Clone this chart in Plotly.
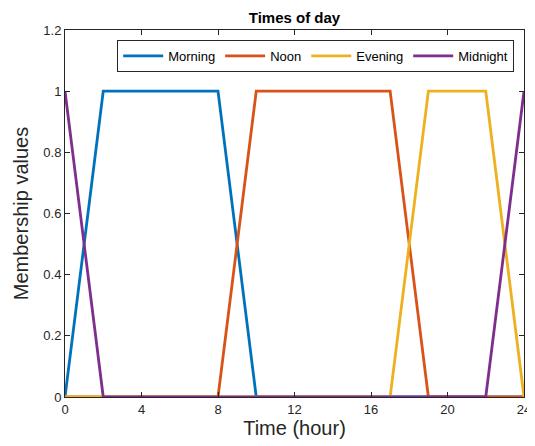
import plotly.graph_objects as go

hours_morning = [0, 2, 8, 10, 24]
vals_morning = [0, 1, 1, 0, 0]
hours_noon = [0, 8, 10, 17, 19, 24]
vals_noon = [0, 0, 1, 1, 0, 0]
hours_evening = [0, 17, 19, 22, 24]
vals_evening = [0, 0, 1, 1, 0]
hours_midnight = [0, 2, 22, 24]
vals_midnight = [1, 0, 0, 1]

x_ticks = [0, 4, 8, 12, 16, 20, 24]
y_ticks = [0, 0.2, 0.4, 0.6, 0.8, 1, 1.2]
y_tick_labels = ["0", "0.2", "0.4", "0.6", "0.8", "1", "1.2"]

series = [
    ("Morning", hours_morning, vals_morning, "#0072BD"),
    ("Noon", hours_noon, vals_noon, "#D95319"),
    ("Evening", hours_evening, vals_evening, "#EDB120"),
    ("Midnight", hours_midnight, vals_midnight, "#7E2F8E"),
]

fig = go.Figure()
for name, xs, ys, c in series:
    fig.add_trace(go.Scatter(x=xs, y=ys, mode="lines", name=name,
                             line=dict(color=c, width=2.8)))

font = "Liberation Sans, Arial, sans-serif"
axis_common = dict(showline=True, linecolor="#262626", linewidth=1, mirror="ticks",
                   ticks="inside", ticklen=5, tickcolor="#262626", showgrid=False,
                   zeroline=False, tickfont=dict(family=font, size=13, color="#262626"))

fig.update_layout(
    width=535, height=446,
    margin=dict(l=53, r=15, t=22, b=57),
    paper_bgcolor="white", plot_bgcolor="white",
    title=dict(text="<b>Times of day</b>", x=0.5, xref="paper", xanchor="center",
               yref="container", y=1 - 10 / 446, yanchor="middle",
               font=dict(family=font, size=15, color="black")),
    legend=dict(orientation="h", x=0.9786, xanchor="right", y=0.973, yanchor="top",
                bgcolor="white", bordercolor="#262626", borderwidth=1,
                font=dict(family=font, size=13, color="black"),
                itemwidth=40, tracegroupgap=0),
    showlegend=True,
)
fig.update_xaxes(range=[0, 24], tickvals=x_ticks,
                 title=dict(text="Time (hour)", font=dict(family=font, size=20, color="#262626"), standoff=5),
                 **axis_common)
fig.update_yaxes(range=[0, 1.2], tickvals=y_ticks, ticktext=y_tick_labels,
                 title=dict(text="Membership values", font=dict(family=font, size=20, color="#262626"), standoff=9),
                 **axis_common)

fig.write_html("out.html")
